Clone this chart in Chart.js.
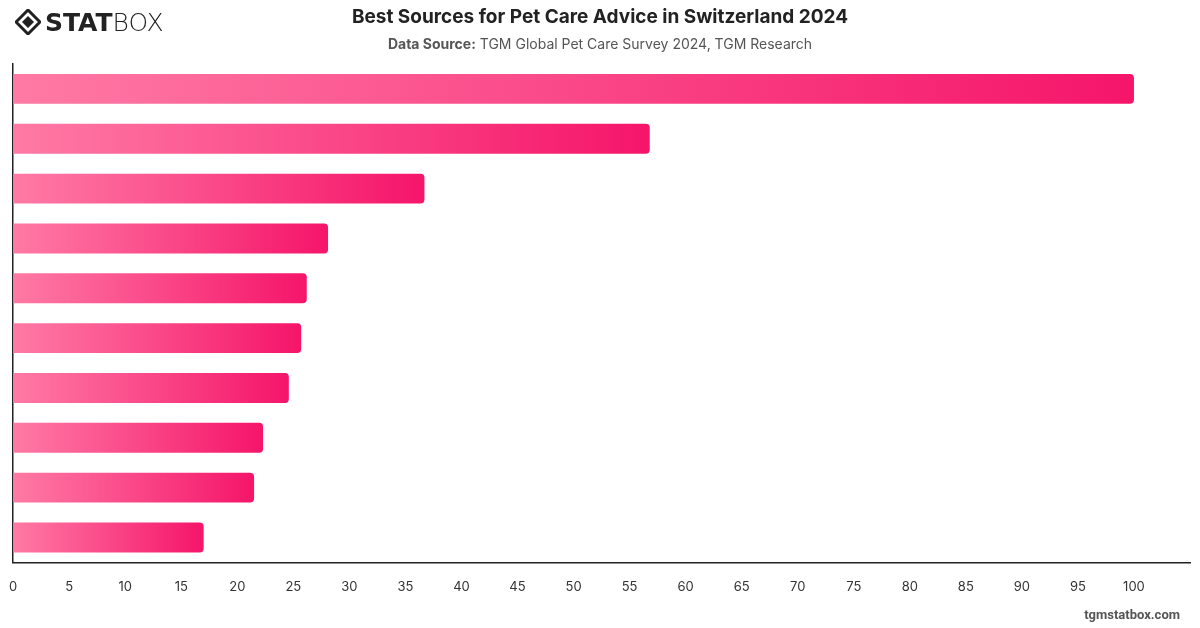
<!DOCTYPE html>
<html>
<head>
<meta charset="utf-8">
<script src="https://cdn.jsdelivr.net/npm/chart.js"></script>
<style>
  html, body { margin: 0; padding: 0; background: #fff; }
  body { width: 1200px; height: 628px; position: relative; overflow: hidden; font-family: Inter, "Noto Sans", sans-serif; }
  #wrap { position: absolute; left: 0; top: 0; width: 1200px; height: 628px; }
  .title { position: absolute; top: 5px; left: 0; width: 1200px; text-align: center; font-size: 19px; font-weight: 700; color: #222; }
  .sub { position: absolute; top: 35px; left: 0; width: 1200px; text-align: center; font-size: 14px; color: #555; }
  .sub b { font-weight: 700; }
  .foot { position: absolute; right: 20px; top: 607px; font-size: 13px; font-weight: 700; color: #555; font-family: Roboto, sans-serif; }
  .logo { position: absolute; left: 15px; top: 8px; height: 28px; display: flex; align-items: center; }
  .logo .st { font-family: "DejaVu Sans", sans-serif; font-weight: 900; font-size: 25px; color: #222; margin-left: 4px; }
  .logo .bx { font-family: "DejaVu Sans", sans-serif; font-weight: 300; font-size: 25px; color: #222; }
</style>
</head>
<body>
<div id="wrap"><canvas id="chart" width="1200" height="628"></canvas></div>
<div class="logo">
  <svg width="26" height="26" viewBox="0 0 26 26">
    <path d="M13 1 L25 13 L13 25 L1 13 Z" fill="none" stroke="#222" stroke-width="3"/>
    <path d="M13 7 L19 13 L13 19 L7 13 Z" fill="#222"/>
  </svg>
  <span class="st">STAT</span><span class="bx">BOX</span>
</div>
<div class="title">Best Sources for Pet Care Advice in Switzerland 2024</div>
<div class="sub"><b>Data Source:</b> TGM Global Pet Care Survey 2024, TGM Research</div>
<div class="foot">tgmstatbox.com</div>
<script>
// category names are not shown on the picture
var categories = ['Source 1', 'Source 2', 'Source 3', 'Source 4', 'Source 5',
                  'Source 6', 'Source 7', 'Source 8', 'Source 9', 'Source 10'];
var values = [100, 56.8, 36.7, 28.1, 26.2, 25.7, 24.6, 22.3, 21.5, 17.0];
var xTicks = [0, 5, 10, 15, 20, 25, 30, 35, 40, 45, 50, 55, 60, 65, 70, 75, 80, 85, 90, 95, 100];

function barGradient(ctx) {
    var chart = ctx.chart;
    if (!chart.chartArea || ctx.type !== 'data') return '#f7176b';
    var xs = chart.scales.x;
    var x0 = xs.getPixelForValue(0);
    var x1 = xs.getPixelForValue(values[ctx.dataIndex]);
    var g = chart.ctx.createLinearGradient(x0, 0, x1, 0);
    g.addColorStop(0, '#ff7aa5');
    g.addColorStop(1, '#f5156a');
    return g;
}

var chart = new Chart(document.getElementById('chart'), {
    type: 'bar',
    data: {
        labels: categories,
        datasets: [{
            data: values,
            backgroundColor: barGradient,
            borderRadius: 4,
            borderSkipped: 'start',
            barPercentage: 0.6,
            categoryPercentage: 1
        }]
    },
    options: {
        indexAxis: 'y',
        responsive: false,
        animation: false,
        layout: { padding: { top: 64, left: 8, right: 10, bottom: 24 } },
        plugins: { legend: { display: false }, tooltip: { enabled: false } },
        scales: {
            x: {
                min: 0,
                max: 105,
                grid: { display: false },
                border: { display: true, color: '#222', width: 1.5 },
                afterBuildTicks: function (axis) {
                    axis.ticks = xTicks.map(function (v) { return { value: v }; });
                },
                ticks: {
                    padding: 9,
                    color: '#333',
                    font: { family: 'Inter', size: 13 }
                }
            },
            y: {
                grid: { display: false },
                border: { display: true, color: '#222', width: 1.5 },
                ticks: { display: false },
                afterFit: function (axis) { axis.width = 0; }
            }
        }
    }
});
</script>
</body>
</html>
